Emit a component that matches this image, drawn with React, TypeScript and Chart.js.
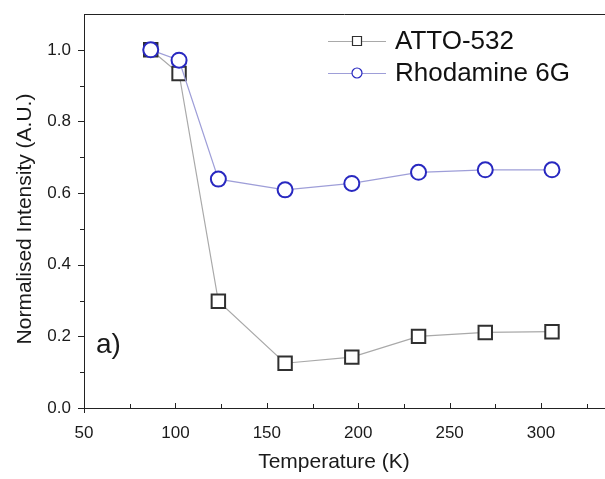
import React, { useEffect, useRef } from "react";
import { Chart, registerables } from "chart.js";

Chart.register(...registerables);

const temperatures = [86.5, 102, 123.5, 160, 196.5, 233, 269.5, 306];
const atto532 = [1.0, 0.934, 0.298, 0.125, 0.142, 0.2, 0.211, 0.213];
const rhodamine6G = [1.0, 0.971, 0.639, 0.609, 0.627, 0.658, 0.665, 0.665];
const seriesNames = ["ATTO-532", "Rhodamine 6G"];
const xTicks = [50, 100, 150, 200, 250, 300];
const xMinorTicks = [75, 125, 175, 225, 275, 325];
const yTicks = [0, 0.2, 0.4, 0.6, 0.8, 1.0];
const yMinorTicks = [0.1, 0.3, 0.5, 0.7, 0.9];
const xTitle = "Temperature (K)";
const yTitle = "Normalised Intensity (A.U.)";
const panelLabel = "a)";

const FONT = "'Liberation Sans', Arial, sans-serif";
const SQ_STROKE = "#303030";
const SQ_LINE = "#a9a9a9";
const CI_STROKE = "#2828c0";
const CI_LINE = "#9e9ed8";

const decor = {
  id: "decor",
  afterDraw(chart: any) {
    const ctx = chart.ctx;
    const xs = chart.scales.x;
    const ys = chart.scales.y;
    const area = chart.chartArea;
    ctx.save();
    ctx.strokeStyle = "#222";
    ctx.lineWidth = 1;
    // top border
    ctx.beginPath();
    ctx.moveTo(area.left, area.top + 0.5);
    ctx.lineTo(area.right, area.top + 0.5);
    ctx.stroke();
    // x ticks (inward)
    ctx.beginPath();
    xTicks.forEach((v) => {
      const px = Math.round(xs.getPixelForValue(v)) + 0.5;
      ctx.moveTo(px, area.bottom);
      ctx.lineTo(px, area.bottom - 5);
    });
    xMinorTicks.forEach((v) => {
      const px = Math.round(xs.getPixelForValue(v)) + 0.5;
      ctx.moveTo(px, area.bottom);
      ctx.lineTo(px, area.bottom - 4);
    });
    ctx.moveTo(area.left + 0.5, area.bottom);
    ctx.lineTo(area.left + 0.5, area.bottom + 5);
    // y ticks (outward)
    yTicks.forEach((v) => {
      const py = Math.round(ys.getPixelForValue(v)) + 0.5;
      ctx.moveTo(area.left, py);
      ctx.lineTo(area.left - 6, py);
    });
    yMinorTicks.forEach((v) => {
      const py = Math.round(ys.getPixelForValue(v)) + 0.5;
      ctx.moveTo(area.left, py);
      ctx.lineTo(area.left - 4, py);
    });
    ctx.stroke();

    // axis titles
    ctx.fillStyle = "#1a1a1a";
    ctx.font = `21px ${FONT}`;
    ctx.textAlign = "center";
    ctx.textBaseline = "middle";
    ctx.fillText(xTitle, 334, 462);
    ctx.save();
    ctx.translate(25, 219);
    ctx.rotate(-Math.PI / 2);
    ctx.fillText(yTitle, 0, 0);
    ctx.restore();

    // panel label
    ctx.font = `28px ${FONT}`;
    ctx.textAlign = "left";
    ctx.fillText(panelLabel, 96, 345);

    // legend
    const entries = [
      { name: seriesNames[0], line: SQ_LINE, stroke: SQ_STROKE, style: "rect", y: 41 },
      { name: seriesNames[1], line: CI_LINE, stroke: CI_STROKE, style: "circle", y: 73 },
    ];
    entries.forEach((e) => {
      ctx.strokeStyle = e.line;
      ctx.lineWidth = 1;
      ctx.beginPath();
      ctx.moveTo(328, e.y + 0.5);
      ctx.lineTo(386, e.y + 0.5);
      ctx.stroke();
      ctx.fillStyle = "#fff";
      ctx.strokeStyle = e.stroke;
      ctx.lineWidth = 1.2;
      ctx.beginPath();
      if (e.style === "rect") {
        ctx.rect(352.5, e.y - 4.5, 9, 9);
      } else {
        ctx.arc(357, e.y, 5, 0, Math.PI * 2);
      }
      ctx.fill();
      ctx.stroke();
      ctx.fillStyle = "#111";
      ctx.font = `26px ${FONT}`;
      ctx.textAlign = "left";
      ctx.textBaseline = "middle";
      ctx.fillText(e.name, 395, e.y + 1);
    });
    ctx.restore();
  },
};

export default function App() {
  const ref = useRef<HTMLCanvasElement | null>(null);
  useEffect(() => {
    if (!ref.current) return;
    const chart = new Chart(ref.current, {
      type: "scatter",
      data: {
        datasets: [
          {
            label: seriesNames[1],
            data: temperatures.map((t, i) => ({ x: t, y: rhodamine6G[i] })),
            showLine: true,
            borderColor: CI_LINE,
            borderWidth: 1.2,
            pointStyle: "circle",
            pointRadius: 7.5,
            pointBorderWidth: 2,
            pointBorderColor: CI_STROKE,
            pointBackgroundColor: "#ffffff",
            order: 0,
          },
          {
            label: seriesNames[0],
            data: temperatures.map((t, i) => ({ x: t, y: atto532[i] })),
            showLine: true,
            borderColor: SQ_LINE,
            borderWidth: 1.2,
            pointStyle: "rect",
            pointRadius: 9.5,
            pointBorderWidth: 2,
            pointBorderColor: SQ_STROKE,
            pointBackgroundColor: "#ffffff",
            order: 1,
          },
        ],
      },
      options: {
        responsive: false,
        animation: false,
        layout: { autoPadding: false, padding: { top: 14, right: 0, left: 0, bottom: 0 } },
        plugins: { legend: { display: false }, tooltip: { enabled: false } },
        scales: {
          x: {
            type: "linear",
            min: 50,
            max: 335,
            afterBuildTicks: (s: any) => {
              s.ticks = xTicks.map((v) => ({ value: v }));
            },
            afterFit: (s: any) => {
              s.height = 71;
              s.paddingLeft = 0;
              s.paddingRight = 0;
            },
            grid: { display: false, drawTicks: false },
            border: { display: true, color: "#222", width: 1 },
            ticks: {
              padding: 15,
              color: "#1a1a1a",
              font: { family: FONT, size: 17 },
              maxRotation: 0,
              callback: (v: any) => String(v),
            },
          },
          y: {
            type: "linear",
            min: 0,
            max: 1.1,
            afterBuildTicks: (s: any) => {
              s.ticks = yTicks.map((v) => ({ value: v }));
            },
            afterFit: (s: any) => {
              s.width = 84;
              s.paddingTop = 0;
              s.paddingBottom = 0;
            },
            grid: { display: false, drawTicks: false },
            border: { display: true, color: "#222", width: 1 },
            ticks: {
              padding: 13,
              color: "#1a1a1a",
              font: { family: FONT, size: 17 },
              callback: (v: any) => Number(v).toFixed(1),
            },
          },
        },
      },
      plugins: [decor],
    });
    return () => chart.destroy();
  }, []);
  return (
    <div style={{ position: "absolute", left: 0, top: 0, width: 605, height: 479, background: "#fff" }}>
      <canvas ref={ref} width={605} height={479} />
    </div>
  );
}
